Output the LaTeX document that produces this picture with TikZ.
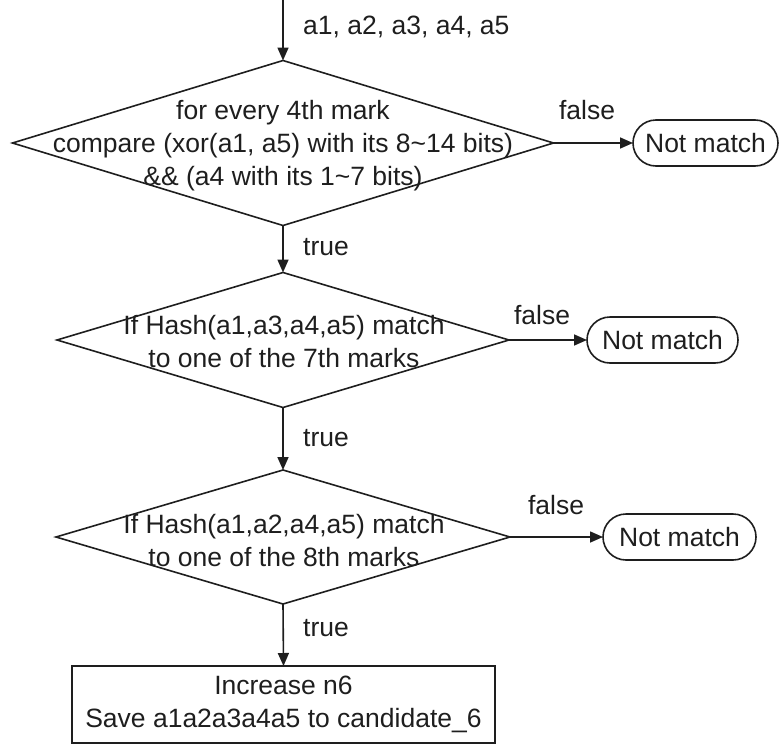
\documentclass[tikz,border=0pt]{standalone}
\usepackage{fontspec}
\setmainfont{Liberation Sans}
\usetikzlibrary{shapes.geometric,shapes.misc,arrows.meta}
\definecolor{ink}{HTML}{1E1E1E}
\begin{document}
\begin{tikzpicture}[x=1pt,y=-1pt,
  every node/.style={text=ink,font=\fontsize{26.5}{33}\selectfont},
  line/.style={draw=ink,line width=1.6pt},
  flow/.style={line,-{Triangle[length=13pt,width=11pt]}},
  decision/.style={line,shape=diamond,inner sep=0pt,outer sep=0pt},
  endbox/.style={line,shape=rounded rectangle,inner sep=0pt,outer sep=0pt,
    minimum height=46pt},
  procbox/.style={line,shape=rectangle,inner sep=0pt,outer sep=0pt,align=center},
  caption/.style={inner sep=0pt,anchor=west},
  tag/.style={inner sep=0pt}]
\useasboundingbox (0,0) rectangle (779,744);

% decisions (outline only; text is set in a separate node)
\node[decision,minimum width=541pt,minimum height=165pt] (d1) at (283,143) {};
\node[decision,minimum width=452pt,minimum height=135pt] (d2) at (283,340) {};
\node[decision,minimum width=454pt,minimum height=134pt] (d3) at (283,537) {};

\node[align=center,inner sep=0pt] (t1) at (283,146)
  {for every 4th mark\\compare (xor(a1, a5) with its 8\textasciitilde14 bits)\\\&\& (a4 with its 1\textasciitilde7 bits)};
\node[align=center,inner sep=0pt] (t2) at (284,342)
  {If Hash(a1,a3,a4,a5) match\\to one of the 7th marks};
\node[align=center,inner sep=0pt] (t3) at (284,541)
  {If Hash(a1,a2,a4,a5) match\\to one of the 8th marks};

% terminal outcomes
\node[endbox,minimum width=145pt] (n1) at (705.5,143) {Not match};
\node[endbox,minimum width=151pt] (n2) at (662.5,340) {Not match};
\node[endbox,minimum width=153pt] (n3) at (679.5,537) {Not match};

% final action
\node[procbox,minimum width=423pt,minimum height=77pt] (act) at (283.5,704.5)
  {Increase n6\\Save a1a2a3a4a5 to candidate\_6};

% input
\coordinate (in) at (283,0);
\draw[flow] (in) -- (d1.north);
\node[caption] (lin) at (303,27) {a1, a2, a3, a4, a5};

% true branches
\draw[flow] (d1.south) -- (d2.north);
\draw[flow] (d2.south) -- (d3.north);
\draw[flow] (d3.south) -- (act.north);
\node[caption] (lt1) at (303,247) {true};
\node[caption] (lt2) at (303,438) {true};
\node[caption] (lt3) at (303,628) {true};

% false branches
\draw[flow] (d1.east) -- (n1.west);
\draw[flow] (d2.east) -- (n2.west);
\draw[flow] (d3.east) -- (n3.west);
\node[tag] (lf1) at (587,110) {false};
\node[tag] (lf2) at (542,315) {false};
\node[tag] (lf3) at (556,505) {false};
\end{tikzpicture}
\end{document}
